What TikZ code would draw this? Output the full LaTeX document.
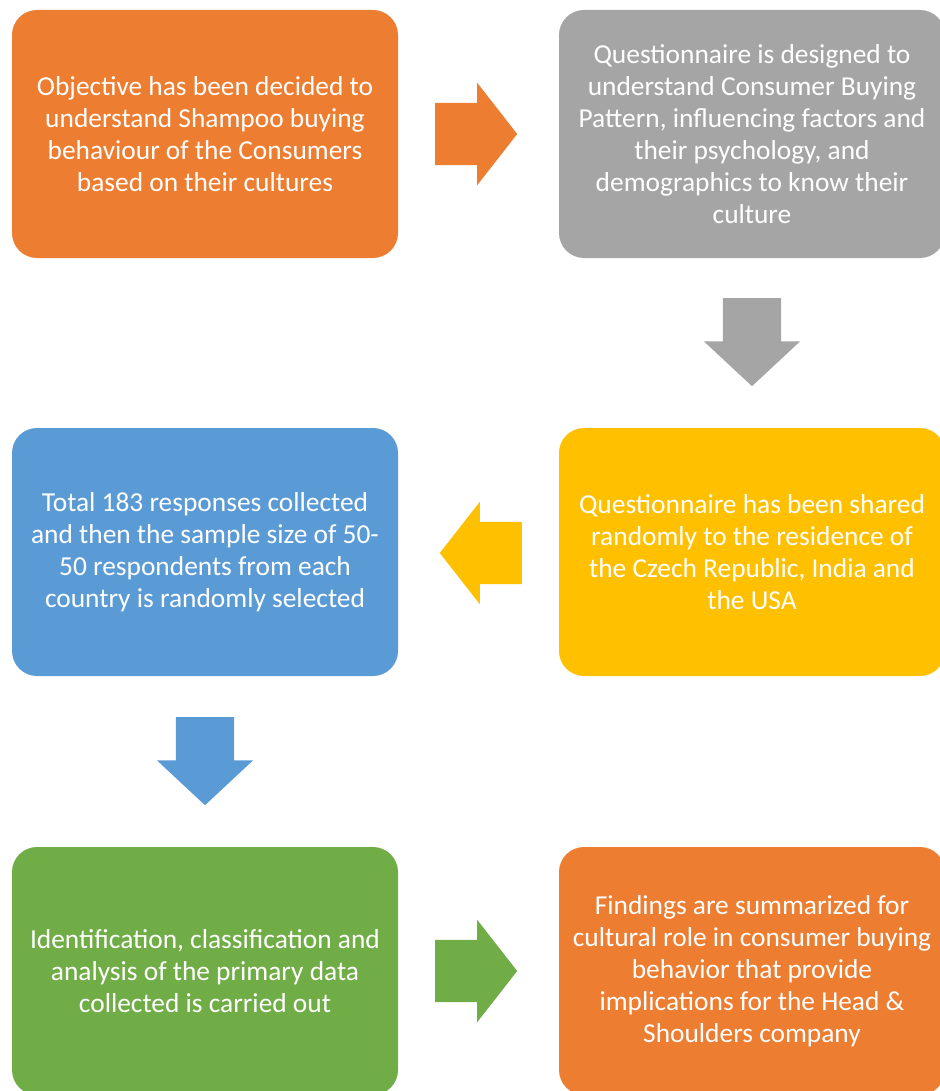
\documentclass[tikz,border=0pt]{standalone}
\usepackage{fontspec}
\setmainfont{Carlito}
\usetikzlibrary{shapes.arrows}
\definecolor{boxorange}{HTML}{ED7D31}
\definecolor{boxgray}{HTML}{A5A5A5}
\definecolor{boxyellow}{HTML}{FFC000}
\definecolor{boxblue}{HTML}{5B9BD5}
\definecolor{boxgreen}{HTML}{70AD47}
\begin{document}
\begin{tikzpicture}
    [x=1pt,y=-1pt,
     flowbox/.style={rectangle,rounded corners=25pt,minimum width=386pt,
       minimum height=248pt,inner sep=0pt,align=center,text=white,
       font=\fontsize{27.4}{32}\selectfont},
     sidearrow/.style={single arrow,anchor=tail,inner xsep=0pt,inner ysep=31pt,
       single arrow head extend=20pt,minimum height=82pt,single arrow tip angle=104},
     downarrow/.style={single arrow,anchor=tail,inner xsep=0pt,inner ysep=29pt,
       single arrow head extend=19pt,minimum height=88pt,single arrow tip angle=94,
       rotate=-90}]
    \useasboundingbox (0,0) rectangle (939,1091);
    \node (objective) at (205,134) [flowbox,fill=boxorange]
      {Objective has been decided to\\understand Shampoo buying\\behaviour of the Consumers\\based on their cultures};
    \node (questionnaire) at (752,134) [flowbox,fill=boxgray]
      {Questionnaire is designed to\\understand Consumer Buying\\Pattern, influencing factors and\\their psychology, and\\demographics to know their\\culture};
    \node (shared) at (752,552) [flowbox,fill=boxyellow]
      {Questionnaire has been shared\\randomly to the residence of\\the Czech Republic, India and\\the USA};
    \node (responses) at (205,552) [flowbox,fill=boxblue]
      {Total 183 responses collected\\and then the sample size of 50-\\50 respondents from each\\country is randomly selected};
    \node (analysis) at (205,971) [flowbox,fill=boxgreen]
      {Identification, classification and\\analysis of the primary data\\collected is carried out};
    \node (findings) at (752,971) [flowbox,fill=boxorange]
      {Findings are summarized for\\cultural role in consumer buying\\behavior that provide\\implications for the Head \&\\Shoulders company};
    \node (arrow1) at (435,134) [sidearrow,fill=boxorange] {};
    \node (arrow2) at (752,298) [downarrow,fill=boxgray] {};
    \node (arrow3) at (522,553) [sidearrow,fill=boxyellow,rotate=180] {};
    \node (arrow4) at (205,717) [downarrow,fill=boxblue] {};
    \node (arrow5) at (435,971) [sidearrow,fill=boxgreen] {};
  \end{tikzpicture}
\end{document}
